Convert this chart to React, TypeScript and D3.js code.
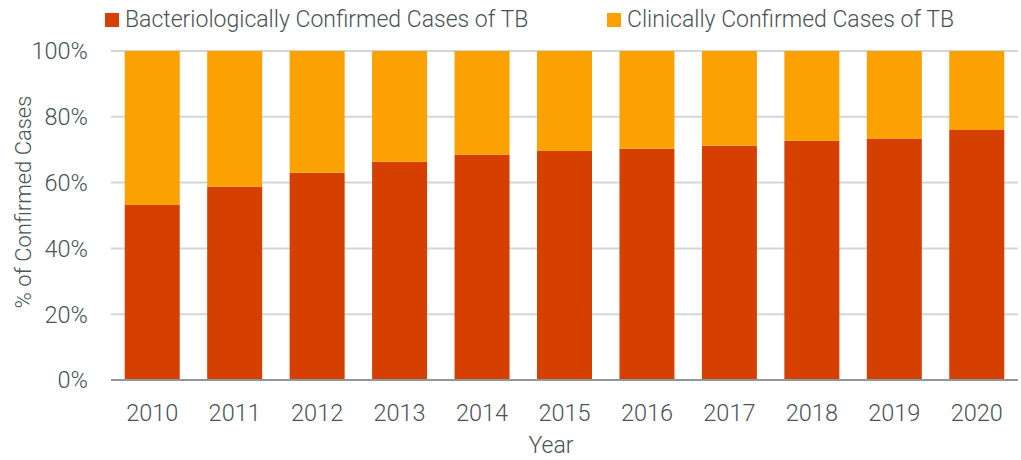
import React, { useRef, useEffect } from "react";
import * as d3 from "d3";

const years = ["2010", "2011", "2012", "2013", "2014", "2015", "2016", "2017", "2018", "2019", "2020"];
// share of confirmed TB cases (%), bacteriologically confirmed
const bacterio = [53.2, 58.8, 63.0, 66.3, 68.5, 69.6, 70.3, 71.2, 72.7, 73.4, 76.0];
const clinical = bacterio.map(v => 100 - v);
const yTickValues = [0, 20, 40, 60, 80, 100];
const seriesNames = ["Bacteriologically Confirmed Cases of TB", "Clinically Confirmed Cases of TB"];
const seriesColors = ["#d54000", "#fca102"];

const W = 1021;
const H = 460;
const FONT = "Roboto, 'Liberation Sans', sans-serif";
const TEXT = "#4a5356";

export default function App() {
    const ref = useRef<SVGSVGElement>(null);

    useEffect(() => {
        if (!ref.current) return;
        const svg = d3.select(ref.current);
        svg.selectAll("*").remove();

        const margin = { top: 51, right: 3, bottom: 80, left: 111 };
        const x = d3.scaleBand()
            .domain(years)
            .range([margin.left, W - margin.right])
            .paddingInner(0.333)
            .paddingOuter(0.1665);
        const y = d3.scaleLinear()
            .domain([0, 100])
            .range([H - margin.bottom, margin.top]);

        const rows = years.map((yr, i) => ({ year: yr, bacterio: bacterio[i], clinical: clinical[i] }));
        const stack = d3.stack<any>().keys(["bacterio", "clinical"]);
        const layers = stack(rows);

        // gridlines
        svg.append("g")
            .selectAll("line")
            .data(yTickValues.filter(d => d !== 0))
            .enter()
            .append("line")
            .attr("x1", margin.left)
            .attr("x2", W - margin.right)
            .attr("y1", d => y(d))
            .attr("y2", d => y(d))
            .attr("stroke", "#d3d6d9")
            .attr("stroke-width", 2);

        // stacked bars
        svg.append("g")
            .selectAll("g")
            .data(layers)
            .enter()
            .append("g")
            .attr("fill", (_, i) => seriesColors[i])
            .selectAll("rect")
            .data(d => d)
            .enter()
            .append("rect")
            .attr("x", d => x(d.data.year)!)
            .attr("width", x.bandwidth())
            .attr("y", d => y(d[1]))
            .attr("height", d => y(d[0]) - y(d[1]));

        // baseline
        svg.append("line")
            .attr("x1", margin.left)
            .attr("x2", W - margin.right)
            .attr("y1", y(0))
            .attr("y2", y(0))
            .attr("stroke", "#8e999e")
            .attr("stroke-width", 2);

        const addText = (sel: any, size: number) => sel
            .attr("fill", TEXT)
            .attr("font-family", FONT)
            .attr("font-weight", 300)
            .attr("font-size", size);

        // y tick labels
        addText(svg.append("g")
            .selectAll("text")
            .data(yTickValues)
            .enter()
            .append("text")
            .attr("x", 88)
            .attr("y", d => y(d))
            .attr("dy", "0.36em")
            .attr("text-anchor", "end"), 23.5)
            .text(d => `${d}%`);

        // x tick labels
        addText(svg.append("g")
            .selectAll("text")
            .data(years)
            .enter()
            .append("text")
            .attr("x", d => x(d)! + x.bandwidth() / 2)
            .attr("y", 421)
            .attr("text-anchor", "middle"), 23.5)
            .text(d => d);

        // axis titles
        addText(svg.append("text")
            .attr("x", 551)
            .attr("y", 453)
            .attr("text-anchor", "middle"), 23)
            .text("Year");
        addText(svg.append("text")
            .attr("transform", `translate(31,202) rotate(-90)`)
            .attr("text-anchor", "middle"), 22)
            .text("% of Confirmed Cases");

        // legend
        const legendX = [105, 607];
        const lg = svg.append("g")
            .selectAll("g")
            .data(seriesNames)
            .enter()
            .append("g")
            .attr("transform", (_, i) => `translate(${legendX[i]},0)`);
        lg.append("rect")
            .attr("x", 0)
            .attr("y", 13)
            .attr("width", 14)
            .attr("height", 14)
            .attr("fill", (_, i) => seriesColors[i]);
        addText(lg.append("text")
            .attr("x", 20)
            .attr("y", 27), 23)
            .text(d => d);
    }, []);

    return (
        <svg
            ref={ref}
            width={W}
            height={H}
            style={{ position: "absolute", left: 0, top: 0, display: "block", background: "#fff" }}
        />
    );
}
